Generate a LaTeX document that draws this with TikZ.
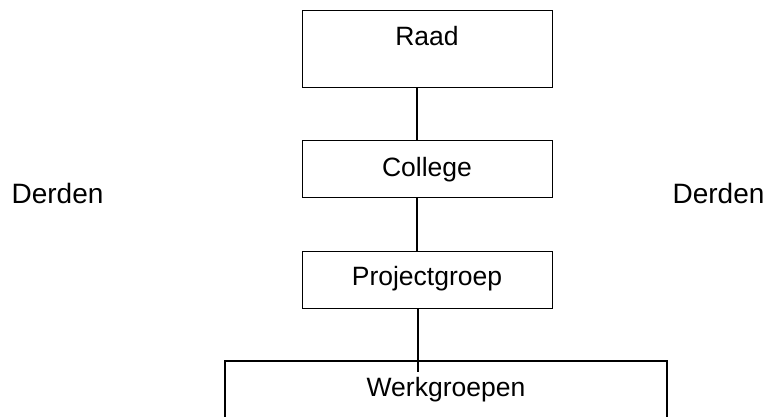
\documentclass[tikz,border=0pt]{standalone}
\usepackage{fontspec}
\setmainfont{Liberation Sans}
\begin{document}
\begin{tikzpicture}[x=1pt,y=-1pt,
  orgbox/.style={draw=black,line width=1.3pt,rectangle,inner sep=0pt,anchor=north west},
  widebox/.style={draw=black,line width=2pt},
  lbl/.style={anchor=base,inner sep=0pt,font=\fontsize{26.5}{30}\selectfont},
  sidelbl/.style={anchor=base,inner sep=0pt,font=\fontsize{28}{32}\selectfont},
  conn/.style={draw=black,line width=1.1pt}]
\clip (0,0) rectangle (767,416);
\useasboundingbox (0,0) rectangle (767,416);
% boxes
\node[orgbox,minimum width=250pt,minimum height=77pt] (raad) at (302,10) {};
\node[orgbox,minimum width=250pt,minimum height=57pt] (college) at (302,140) {};
\node[orgbox,minimum width=250pt,minimum height=57pt] (proj) at (302,251) {};
\coordinate (wtl) at (225,361);
\coordinate (wtr) at (667,361);
\coordinate (wbl) at (225,430);
\coordinate (wbr) at (667,430);
\draw[widebox] (wbl) -- (wtl) -- (wtr) -- (wbr);
% texts
\node[lbl] (traad) at (427,45) {Raad};
\node[lbl] (tcollege) at (427,176) {College};
\node[lbl] (tproj) at (427,285) {Projectgroep};
\node[lbl] (twerk) at (446,396) {Werkgroepen};
\node[sidelbl] (dl) at (57.5,203) {Derden};
\node[sidelbl] (dr) at (718.5,203) {Derden};
% connectors
\coordinate (xl) at (417,0);
\coordinate (xl2) at (418,0);
\coordinate (wend) at (418,372);
\draw[conn] (raad.south -| xl) -- (college.north -| xl);
\draw[conn] (college.south -| xl) -- (proj.north -| xl);
\draw[conn] (proj.south -| xl2) -- (wend);
\end{tikzpicture}
\end{document}
